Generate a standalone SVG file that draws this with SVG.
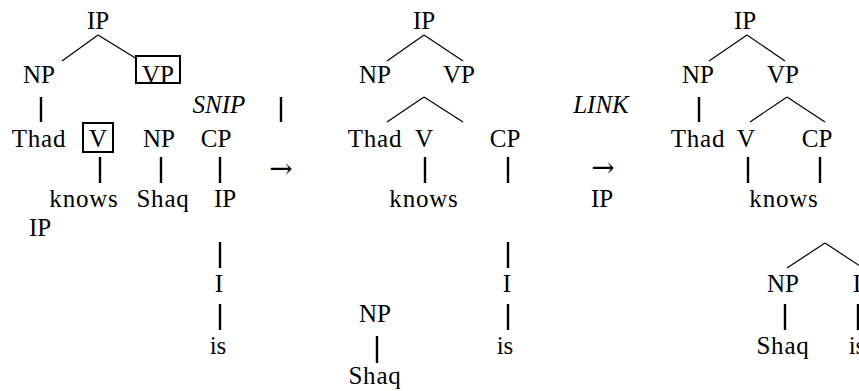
<svg xmlns="http://www.w3.org/2000/svg" width="859" height="391" viewBox="0 0 859 391">
  <style>
    text { font-family: "Liberation Serif", "Times New Roman", serif; font-size: 25px; fill: #000; text-anchor: middle; }
    .it { font-style: italic; }
    .w { letter-spacing: 0.8px; }
    .arr { font-family: "DejaVu Serif", serif; font-size: 28px; }
    .br { stroke: #000; stroke-width: 1.2; fill: none; }
    .st { stroke: #000; stroke-width: 2.4; fill: none; }
    .box { stroke: #000; stroke-width: 2; fill: none; }
  </style>
  <rect width="859" height="391" fill="#fff"/>

  <!-- connectors: branches of the three trees -->
  <g id="connectors">
    <!-- tree 1 -->
    <line class="br" x1="98" y1="35" x2="62" y2="61"/>
    <line class="br" x1="98" y1="35" x2="137" y2="59"/>
    <line class="st" x1="41" y1="97" x2="41" y2="122"/>
    <line class="st" x1="281" y1="97" x2="281" y2="122"/>
    <line class="st" x1="100" y1="157" x2="100" y2="183"/>
    <line class="st" x1="161" y1="157" x2="161" y2="183"/>
    <line class="st" x1="220" y1="157" x2="220" y2="183"/>
    <line class="st" x1="220" y1="242" x2="220" y2="268"/>
    <line class="st" x1="220" y1="304" x2="220" y2="330"/>
    <!-- tree 2 -->
    <line class="br" x1="424" y1="35" x2="387" y2="61"/>
    <line class="br" x1="424" y1="35" x2="463" y2="61"/>
    <line class="br" x1="424" y1="97" x2="387" y2="122"/>
    <line class="br" x1="424" y1="97" x2="463" y2="122"/>
    <line class="st" x1="425" y1="157" x2="425" y2="183"/>
    <line class="st" x1="508" y1="157" x2="508" y2="183"/>
    <line class="st" x1="508" y1="242" x2="508" y2="268"/>
    <line class="st" x1="508" y1="304" x2="508" y2="330"/>
    <line class="st" x1="377" y1="336" x2="377" y2="363"/>
    <!-- tree 3 -->
    <line class="br" x1="747" y1="35" x2="709" y2="61"/>
    <line class="br" x1="747" y1="35" x2="785" y2="61"/>
    <line class="st" x1="699" y1="97" x2="699" y2="122"/>
    <line class="br" x1="787" y1="97" x2="750" y2="122"/>
    <line class="br" x1="787" y1="97" x2="825" y2="122"/>
    <line class="st" x1="748" y1="157" x2="748" y2="183"/>
    <line class="st" x1="820" y1="157" x2="820" y2="183"/>
    <line class="br" x1="825" y1="243" x2="787" y2="268"/>
    <line class="br" x1="825" y1="243" x2="863" y2="268"/>
    <line class="st" x1="785" y1="304" x2="785" y2="330"/>
    <line class="st" x1="858" y1="304" x2="858" y2="330"/>
  </g>

  <!-- tree 1 -->
  <g id="t1-ip"><text x="98" y="29">IP</text></g>
  <g id="t1-np"><text x="39" y="83">NP</text></g>
  <g id="t1-vp"><rect class="box" x="136" y="56" width="44" height="27"/><text x="158" y="83">VP</text></g>
  <g id="t1-thad"><text class="w" x="39" y="147">Thad</text></g>
  <g id="t1-v"><rect class="box" x="83" y="123" width="30" height="29"/><text x="98" y="147">V</text></g>
  <g id="t1-np2"><text x="159" y="147">NP</text></g>
  <g id="t1-cp"><text x="216" y="147">CP</text></g>
  <g id="t1-knows"><text class="w" x="84" y="207">knows</text></g>
  <g id="t1-shaq"><text class="w" x="163" y="207">Shaq</text></g>
  <g id="t1-ip2"><text x="225" y="207">IP</text></g>
  <g id="t1-ip3"><text x="40" y="236">IP</text></g>
  <g id="t1-i"><text x="219" y="292">I</text></g>
  <g id="t1-is"><text x="218" y="354">is</text></g>

  <!-- operation labels -->
  <g id="snip"><text class="it" x="219" y="113">SNIP</text></g>
  <g id="arrow1"><text class="arr" x="281" y="178">→</text></g>
  <g id="link"><text class="it" x="601" y="113">LINK</text></g>
  <g id="arrow2"><text class="arr" x="603" y="177">→</text></g>
  <g id="t3-ipfree"><text x="602" y="207">IP</text></g>

  <!-- tree 2 -->
  <g id="t2-ip"><text x="424" y="29">IP</text></g>
  <g id="t2-np"><text x="375" y="83">NP</text></g>
  <g id="t2-vp"><text x="459" y="83">VP</text></g>
  <g id="t2-thad"><text class="w" x="375" y="147">Thad</text></g>
  <g id="t2-v"><text x="424" y="147">V</text></g>
  <g id="t2-cp"><text x="505" y="147">CP</text></g>
  <g id="t2-knows"><text class="w" x="424" y="207">knows</text></g>
  <g id="t2-i"><text x="507" y="292">I</text></g>
  <g id="t2-is"><text x="505" y="354">is</text></g>
  <g id="t2-np2"><text x="375" y="322">NP</text></g>
  <g id="t2-shaq"><text class="w" x="375" y="384">Shaq</text></g>

  <!-- tree 3 -->
  <g id="t3-ip"><text x="745" y="29">IP</text></g>
  <g id="t3-np"><text x="698" y="83">NP</text></g>
  <g id="t3-vp"><text x="783" y="83">VP</text></g>
  <g id="t3-thad"><text class="w" x="698" y="147">Thad</text></g>
  <g id="t3-v"><text x="746" y="147">V</text></g>
  <g id="t3-cp"><text x="817" y="147">CP</text></g>
  <g id="t3-knows"><text class="w" x="784" y="207">knows</text></g>
  <g id="t3-np2"><text x="783" y="292">NP</text></g>
  <g id="t3-i"><text x="857" y="292">I</text></g>
  <g id="t3-shaq"><text class="w" x="783" y="354">Shaq</text></g>
  <g id="t3-is"><text x="857" y="354">is</text></g>
</svg>
